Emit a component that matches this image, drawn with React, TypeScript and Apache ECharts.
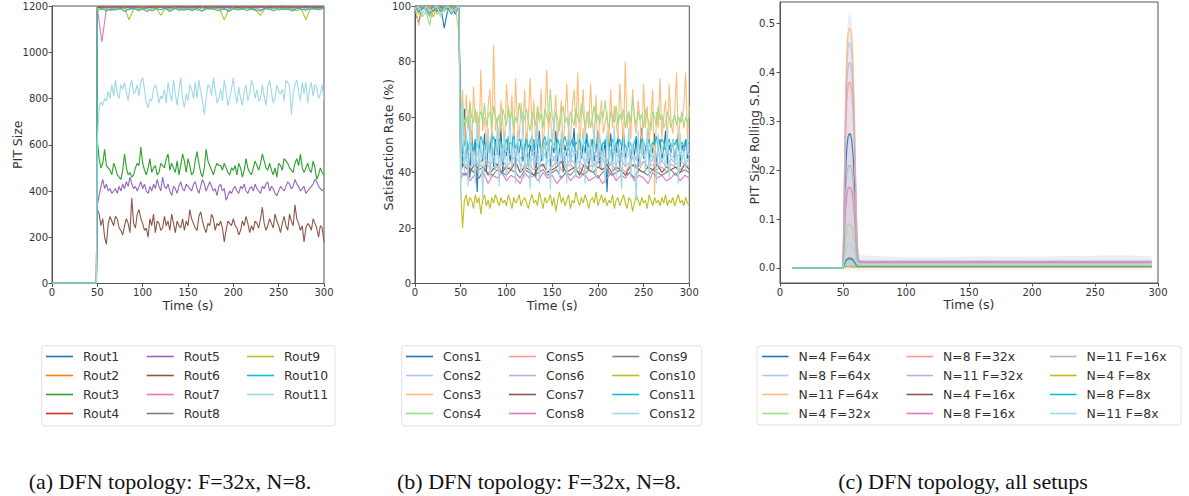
import React, { useEffect, useRef } from "react";
import * as echarts from "echarts";

// ---------------- Panel (a): PIT size per router ----------------
const ROUT_NAMES = ["Rout1", "Rout2", "Rout3", "Rout4", "Rout5", "Rout6", "Rout7", "Rout8", "Rout9", "Rout10", "Rout11"];
const ROUT_COLORS = ["#1f77b4", "#ff7f0e", "#2ca02c", "#d62728", "#9467bd", "#8c564b", "#e377c2", "#7f7f7f", "#bcbd22", "#17becf", "#9edae5"];
const PRE_TIMES_A = [0, 49];
const PRE_VALUES_A = [2, 2];

const ROUT1 = [1195,1196,1194,1197,1195,1193,1196,1198,1195,1194,1196,1197,1195,1193,1196,1195,1197,1194,1196,1195,1198,1194,1196,1195,1197,1193,1196,1195,1194,1197,1196,1195,1193,1196,1197,1195,1194,1196,1195,1198,1194,1196,1195,1197,1194,1196,1195,1193,1196,1195,1196];
const ROUT2 = [1196,1194,1197,1195,1196,1193,1197,1195,1196,1194,1198,1195,1196,1193,1195,1197,1196,1194,1195,1197,1193,1196,1195,1198,1194,1196,1195,1197,1193,1196,1194,1195,1197,1196,1193,1195,1196,1198,1194,1195,1197,1196,1193,1195,1196,1194,1197,1195,1196,1194,1195];
const ROUT3 = [620,540,500,520,580,510,500,490,470,520,500,470,460,450,490,560,500,470,480,460,470,500,520,510,590,520,490,470,500,540,480,500,510,470,480,520,510,500,540,560,490,520,500,480,530,470,510,560,530,480,540,510,470,480,530,570,520,480,460,500,580,530,510,490,470,500,520,510,510,490,520,500,480,470,500,490,510,470,520,500,460,490,540,500,480,470,500,530,510,490,520,560,530,500,490,520,490,470,500,460,520,510,490,540,530,520,500,490,480,520,540,510,560,500,480,500,520,490,480,530,500,450,470,500,480,470];
const ROUT4 = [1194,1196,1195,1193,1197,1195,1196,1194,1198,1195,1193,1196,1195,1197,1194,1196,1193,1195,1197,1196,1194,1195,1198,1193,1196,1195,1194,1197,1195,1196,1193,1195,1197,1194,1196,1195,1198,1193,1196,1194,1195,1197,1196,1193,1195,1194,1197,1196,1195,1193,1196];
const ROUT5 = [340,380,420,450,410,430,400,410,390,400,410,390,420,400,430,410,440,420,460,430,410,420,400,420,440,410,430,400,390,420,400,430,410,450,420,400,460,420,410,430,400,380,420,410,390,420,440,410,400,430,420,410,400,430,440,410,390,420,450,430,400,420,440,420,400,410,380,420,430,400,410,360,380,400,390,410,420,400,390,420,410,430,400,390,410,420,400,430,410,400,390,420,410,430,440,400,420,410,390,380,400,420,410,400,420,440,430,410,420,450,430,420,400,410,420,390,400,410,420,430,450,440,420,410,400,410];
const ROUT6 = [320,300,250,280,200,170,260,290,270,250,290,280,240,230,210,250,280,260,220,370,260,240,300,320,280,260,230,240,200,280,250,300,220,270,260,230,240,290,250,270,230,300,260,220,270,250,240,280,230,270,250,320,280,260,240,230,290,310,270,240,220,260,250,300,280,230,260,250,270,240,180,230,270,260,250,280,250,240,210,230,270,250,290,260,220,250,230,270,260,240,280,330,260,230,250,280,260,240,300,270,250,220,260,290,250,230,300,270,250,340,280,260,230,250,180,240,260,250,230,280,260,240,200,250,240,180];
const ROUT7 = [1190,1045,1188,1185,1192,1186,1190,1184,1188,1192,1186,1175,1190,1188,1185,1192,1187,1190,1184,1188,1191,1186,1190,1178,1188,1192,1186,1190,1185,1188,1192,1187,1184,1190,1188,1192,1185,1190,1187,1191,1186,1188,1184,1190,1192,1187,1188,1185,1190,1188,1191];
const ROUT8 = [1197,1195,1196,1194,1197,1196,1193,1195,1197,1196,1194,1195,1198,1196,1194,1195,1197,1193,1196,1195,1197,1194,1196,1198,1195,1193,1196,1197,1194,1195,1196,1198,1194,1195,1197,1193,1196,1195,1197,1194,1196,1195,1198,1194,1196,1195,1193,1197,1195,1196,1194];
const ROUT9 = [1190,1185,1190,1180,1188,1185,1192,1140,1188,1185,1190,1180,1188,1190,1160,1188,1185,1192,1180,1188,1185,1190,1180,1192,1188,1185,1190,1188,1140,1185,1190,1182,1188,1190,1185,1180,1160,1188,1185,1190,1182,1188,1190,1185,1180,1188,1140,1190,1185,1188,1190];
const ROUT10 = [1180,1190,1178,1188,1182,1192,1176,1188,1190,1180,1186,1192,1178,1188,1184,1190,1176,1188,1192,1182,1186,1180,1190,1178,1188,1192,1184,1180,1190,1176,1188,1186,1192,1180,1188,1184,1178,1190,1186,1180,1192,1184,1188,1178,1190,1186,1182,1192,1188,1184,1190];
const ROUT11 = [620,760,785,770,800,790,830,800,860,810,880,820,800,860,840,870,830,790,850,880,820,830,860,810,870,890,840,780,760,800,790,840,860,830,780,810,800,840,780,870,820,790,880,820,770,840,890,800,760,820,790,860,840,800,870,800,880,830,790,730,800,860,850,810,890,840,780,800,840,790,880,830,770,800,840,890,820,780,850,800,770,830,860,790,820,880,850,800,840,790,800,860,810,770,850,880,830,780,800,860,830,820,840,790,880,870,850,730,820,860,880,830,790,870,820,870,780,840,870,810,860,850,800,820,860,790];
const ROUT_DATA = [ROUT1, ROUT2, ROUT3, ROUT4, ROUT5, ROUT6, ROUT7, ROUT8, ROUT9, ROUT10, ROUT11];

// ---------------- Panel (b): satisfaction rate per consumer ----------------
const CONS_NAMES = ["Cons1", "Cons2", "Cons3", "Cons4", "Cons5", "Cons6", "Cons7", "Cons8", "Cons9", "Cons10", "Cons11", "Cons12"];
const CONS_COLORS = ["#1f77b4", "#aec7e8", "#ffbb78", "#98df8a", "#ff9896", "#c5b0d5", "#8c564b", "#e377c2", "#7f7f7f", "#bcbd22", "#17becf", "#9edae5"];

const CONS1_PRE = [98,94,100,99,96,100,98,100,92,99,100,97,100];
const CONS2_PRE = [100,99,100,98,100,99,100,100,98,100,99,100,99];
const CONS3_PRE = [100,93,99,100,96,100,98,97,100,99,98,100,90];
const CONS4_PRE = [99,100,96,98,93,100,97,99,100,98,100,99,100];
const CONS5_PRE = [100,99,100,100,98,100,99,100,100,99,100,98,100];
const CONS6_PRE = [99,100,100,98,100,99,100,99,100,100,98,100,100];
const CONS7_PRE = [100,100,99,100,100,98,100,100,99,100,100,99,100];
const CONS8_PRE = [100,98,100,100,99,100,100,98,100,99,100,100,99];
const CONS9_PRE = [99,100,100,99,100,100,98,100,100,99,100,99,100];
const CONS10_PRE = [100,97,100,99,100,96,100,99,98,100,99,100,98];
const CONS11_PRE = [100,98,99,100,97,100,99,98,100,99,97,100,99];
const CONS12_PRE = [99,100,97,100,98,99,100,96,99,100,98,99,100];
const CONS_PRE = [CONS1_PRE, CONS2_PRE, CONS3_PRE, CONS4_PRE, CONS5_PRE, CONS6_PRE, CONS7_PRE, CONS8_PRE, CONS9_PRE, CONS10_PRE, CONS11_PRE, CONS12_PRE];

const CONS1 = [55,42,63,45,50,38,55,46,52,33,50,48,44,54,40,50,47,55,42,52,48,45,56,40,50,46,53,44,49,55,41,50,47,52,44,48,54,42,50,46,52,38,49,55,44,48,51,45,53,42,50,47,55,44,48,52,40,50,46,53,44,49,56,42,48,51,45,50,47,54,41,49,52,44,48,55,42,50,46,52,33,48,54,44,50,47,53,42,49,55,45,48,51,44,50,46,53,42,49,56,45,48,52,44,50,47,54,42,49,52,45,48,55,43,50,47,52,44,49,54,42,50,47,52,45,48];
const CONS2 = [47,45,49,44,48,46,50,45,47,44,48,46,49,45,47,44,48,46,45,49,44,47,46,48,45,47,49,44,46,48,45,47,44,49,46,48,45,47,44,48,46,49,45,47,44,48,46,45,47,49,46];
const CONS3 = [60,70,50,68,55,66,48,71,58,62,50,77,55,60,48,64,70,52,86,55,60,50,66,58,48,72,62,55,68,50,74,58,52,65,56,70,48,60,74,55,66,50,62,58,70,46,60,77,55,62,50,60,68,52,58,66,48,60,72,56,50,64,70,56,76,48,60,70,52,62,56,72,58,50,68,44,60,66,54,58,62,50,70,56,64,58,52,72,60,50,80,56,62,52,70,58,54,66,60,48,72,56,64,50,60,70,32,62,56,74,52,60,66,50,72,58,54,62,76,50,60,58,64,76,52,64];
const CONS4 = [55,62,58,60,56,65,60,58,63,55,60,62,58,65,57,60,62,56,64,60,58,61,55,63,60,57,64,59,62,56,60,58,65,61,57,60,63,58,55,62,60,57,64,59,61,56,63,60,58,70,60,57,62,59,55,61,64,58,60,56,62,59,57,63,60,58,65,61,57,60,62,56,60,64,58,61,57,62,60,66,59,56,62,60,58,64,57,61,59,63,56,60,62,58,67,60,57,62,59,61,56,63,60,58,55,62,60,57,64,59,61,56,58,62,60,56,59,61,57,60,58,62,56,60,58,61];
const CONS5 = [41,43,42,40,43,42,44,41,42,43,41,42,44,40,42,43,41,42,43,40,42,44,41,42,43,41,42,40,43,42,44,41,42,43,41,42,40,43,42,41,44,42,43,41,42,40,43,42,41,43,42];
const CONS6 = [43,45,42,44,43,46,42,44,43,45,42,44,46,43,42,44,45,43,42,44,46,43,44,42,45,43,44,42,46,43,44,45,42,44,43,45,42,44,46,43,44,42,45,43,44,42,45,43,44,43,45];
const CONS7 = [44,42,40,43,41,42,39,41,43,40,42,41,44,40,42,41,39,42,43,40,41,42,44,40,41,42,39,43,41,40,42,41,43,40,42,41,39,42,43,41,40,42,41,43,40,42,41,42,40,43,41];
const CONS8 = [38,40,37,39,38,40,36,39,38,40,37,39,38,36,40,38,39,37,40,38,39,36,38,40,37,39,38,40,37,38,39,36,38,40,37,39,38,40,37,39,38,36,40,38,39,37,38,40,37,39,38];
const CONS9 = [40,39,41,40,38,41,40,39,41,40,39,41,40,38,41,40,39,40,41,39,40,41,38,40,39,41,40,39,41,40,38,40,41,39,40,41,39,40,38,41,40,39,41,40,39,40,41,39,40,41,40];
const CONS10 = [33,20,30,32,28,31,30,27,32,29,31,25,30,32,28,30,27,31,29,32,30,28,31,29,30,28,32,30,27,31,29,30,32,28,30,31,29,27,30,32,29,30,28,33,30,27,31,29,30,32,28,31,26,30,33,29,31,28,30,32,27,30,29,33,30,28,31,29,32,30,27,30,31,29,33,28,30,32,29,31,28,30,29,32,27,30,31,28,30,32,29,27,31,30,26,29,32,30,28,31,29,30,27,32,30,28,31,29,30,28,31,29,32,28,30,29,31,28,30,32,29,30,28,31,29,28];
const CONS11 = [52,48,50,53,49,51,50,47,52,50,49,53,51,48,50,52,49,51,53,50,48,52,51,49,50,52,48,51,50,53,49,50,52,51,48,50,52,49,51,53,50,49,52,50,48,51,53,50,49,52,51,50,48,52,50,49,51,53,50,48,50,52,49,51,50,52,48,50,51,53,49,50,52,51,48,50,52,49,51,50,53,49,50,52,48,51,50,52,49,51,50,48,52,50,49,51,53,50,48,52,51,49,50,52,48,51,50,53,49,50,52,51,48,50,52,49,51,50,52,48,50,51,49,52,50,51];
const CONS12 = [31,65,40,55,35,60,42,48,36,58,40,52,31,50,44,56,38,52,46,40,58,35,50,44,55,38,48,60,42,52,36,55,45,40,62,38,50,46,34,55,42,48,58,36,50,44,52,40,56,34,48,60,42,50,38,55,44,48,36,58,42,50,46,38,54,40,48,56,36,50,44,52,40,58,38,48,54,42,50,36,55,44,48,40,57,38,50,46,34,52,42,48,56,38,50,44,30,55,42,48,52,40,56,38,50,44,48,36,54,42,50,46,40,56,38,48,52,42,50,36,54,44,48,40,52,46];
const CONS_DATA = [CONS1, CONS2, CONS3, CONS4, CONS5, CONS6, CONS7, CONS8, CONS9, CONS10, CONS11, CONS12];

// ---------------- Panel (c): rolling S.D., all setups ----------------
const SETUP_NAMES = ["N=4 F=64x", "N=8 F=64x", "N=11 F=64x", "N=4 F=32x", "N=8 F=32x", "N=11 F=32x", "N=4 F=16x", "N=8 F=16x", "N=11 F=16x", "N=4 F=8x", "N=8 F=8x", "N=11 F=8x"];
const SETUP_COLORS = ["#1f77b4", "#aec7e8", "#ffbb78", "#98df8a", "#ff9896", "#c5b0d5", "#8c564b", "#e377c2", "#b5b5b5", "#bcbd22", "#17becf", "#9edae5"];
const T_C = [10, 50, 51, 52, 53, 54, 55, 56, 57, 58, 59, 60, 61, 62, 63, 65, 70, 80, 100, 130, 160, 190, 220, 250, 270, 295];
const SD1 = [0,0,0.09,0.19,0.245,0.268,0.275,0.273,0.26,0.23,0.18,0.11,0.045,0.016,0.014,0.013,0.013,0.012,0.012,0.012,0.013,0.012,0.012,0.013,0.013,0.013];
const SD2 = [0,0,0.16,0.32,0.41,0.45,0.46,0.458,0.44,0.39,0.3,0.18,0.07,0.02,0.015,0.014,0.013,0.013,0.013,0.013,0.012,0.013,0.013,0.012,0.013,0.013];
const SD3 = [0,0,0.17,0.34,0.44,0.48,0.49,0.488,0.47,0.42,0.32,0.19,0.075,0.015,0.008,0.007,0.006,0.006,0.006,0.006,0.006,0.006,0.006,0.006,0.006,0.006];
const SD4 = [0,0,0.03,0.062,0.08,0.088,0.09,0.089,0.085,0.076,0.059,0.036,0.015,0.006,0.005,0.005,0.005,0.005,0.005,0.005,0.005,0.005,0.005,0.005,0.005,0.005];
const SD5 = [0,0,0.13,0.26,0.34,0.372,0.38,0.378,0.36,0.32,0.25,0.15,0.06,0.018,0.013,0.012,0.012,0.012,0.012,0.012,0.012,0.012,0.012,0.012,0.012,0.012];
const SD6 = [0,0,0.145,0.29,0.375,0.41,0.42,0.418,0.4,0.355,0.275,0.165,0.065,0.016,0.011,0.01,0.01,0.01,0.01,0.01,0.01,0.01,0.01,0.01,0.01,0.01];
const SD7 = [0,0,0.007,0.014,0.018,0.0195,0.02,0.02,0.019,0.017,0.013,0.008,0.004,0.003,0.003,0.003,0.003,0.003,0.003,0.003,0.003,0.003,0.003,0.003,0.003,0.003];
const SD8 = [0,0,0.057,0.115,0.148,0.162,0.165,0.164,0.157,0.14,0.108,0.066,0.027,0.014,0.012,0.012,0.012,0.012,0.012,0.012,0.012,0.012,0.012,0.012,0.012,0.012];
const SD9 = [0,0,0.073,0.146,0.188,0.206,0.21,0.209,0.2,0.178,0.138,0.084,0.035,0.017,0.015,0.014,0.014,0.014,0.014,0.014,0.014,0.014,0.014,0.014,0.014,0.014];
const SD10 = [0,0,0.0015,0.003,0.0036,0.004,0.004,0.004,0.0038,0.0034,0.0028,0.0022,0.002,0.002,0.002,0.002,0.002,0.002,0.002,0.002,0.002,0.002,0.002,0.002,0.002,0.002];
const SD11 = [0,0,0.006,0.012,0.016,0.0175,0.018,0.018,0.017,0.015,0.012,0.008,0.005,0.004,0.004,0.004,0.004,0.004,0.004,0.004,0.004,0.004,0.004,0.004,0.004,0.004];
const SD12 = [0,0,0.017,0.034,0.045,0.049,0.05,0.05,0.048,0.042,0.033,0.02,0.009,0.007,0.006,0.006,0.006,0.006,0.006,0.006,0.006,0.006,0.006,0.006,0.006,0.006];
const SD_DATA = [SD1, SD2, SD3, SD4, SD5, SD6, SD7, SD8, SD9, SD10, SD11, SD12];
const BAND_UPPER = [0,0,0.2,0.38,0.47,0.51,0.52,0.52,0.5,0.45,0.36,0.23,0.1,0.035,0.028,0.026,0.025,0.024,0.022,0.022,0.024,0.023,0.024,0.025,0.026,0.024];
const BAND_LOWER = [0,0,-0.002,-0.003,-0.004,-0.005,-0.005,-0.005,-0.005,-0.005,-0.005,-0.005,-0.005,-0.005,-0.005,-0.005,-0.005,-0.004,-0.004,-0.003,-0.003,-0.003,-0.003,-0.003,-0.003,-0.003];

const X_TICKS_MAX = 300;
const SD_TICKS = [0, 0.1, 0.2, 0.3, 0.4, 0.5];

const CAPTIONS = ["(a) DFN topology: F=32x, N=8.", "(b) DFN topology: F=32x, N=8.", "(c) DFN topology, all setups"];

// spread values evenly over a time span
function spread(vals: number[], t0: number, t1: number): number[][] {
  const n = vals.length;
  return vals.map((v, i) => [t0 + (i * (t1 - t0)) / (n - 1), v]);
}

const FONT = "DejaVu Sans";
const AX = "#555";
const TXT = "#333";

function axisCommon(gridIndex: number) {
  return {
    gridIndex,
    nameMoveOverlap: false,
    axisLine: { show: true, onZero: false, lineStyle: { color: AX, width: 1 } },
    axisTick: { show: true, length: 3.5, lineStyle: { color: AX } },
    splitLine: { show: false },
    axisLabel: { fontSize: 10, fontFamily: FONT, color: TXT, margin: 4, formatter: (v: number) => String(v) },
    nameTextStyle: { fontSize: 12.5, fontFamily: FONT, color: TXT },
  };
}

function legendCol(left: number, names: string[], itemWidth: number) {
  return {
    orient: "vertical",
    left,
    top: 349.5,
    padding: 0,
    data: names,
    icon: "rect",
    itemWidth,
    itemHeight: 1.6,
    itemGap: 5,
    selectedMode: false,
    textStyle: { fontSize: 12.4, fontFamily: FONT, color: TXT, lineHeight: 14, padding: [0, 0, 0, 5] },
  };
}

export default function App() {
  const ref = useRef<HTMLDivElement>(null);
  useEffect(() => {
    document.body.style.margin = "0";
    if (!ref.current) return;
    const chart = echarts.init(ref.current, undefined, { renderer: "svg" });

    const series: any[] = [];
    ROUT_NAMES.forEach((name, i) => {
      const pre = PRE_TIMES_A.map((t, k) => [t, PRE_VALUES_A[k]]);
      series.push({
        name, type: "line", xAxisIndex: 0, yAxisIndex: 0, showSymbol: false, symbol: "none", silent: true,
        data: [...pre, ...spread(ROUT_DATA[i], 50, 300)],
        lineStyle: { color: ROUT_COLORS[i], width: 1.1 }, itemStyle: { color: ROUT_COLORS[i] },
      });
    });
    CONS_NAMES.forEach((name, i) => {
      series.push({
        name, type: "line", xAxisIndex: 1, yAxisIndex: 1, showSymbol: false, symbol: "none", silent: true,
        data: [...spread(CONS_PRE[i], 0, 48), ...spread(CONS_DATA[i], 50, 300)],
        lineStyle: { color: CONS_COLORS[i], width: 1.1 }, itemStyle: { color: CONS_COLORS[i] },
      });
    });
    // confidence envelope in (c): upper part (0..upper) and lower part (lower..0)
    series.push({
      name: "band-upper", type: "line", xAxisIndex: 2, yAxisIndex: 2, symbol: "none", silent: true,
      data: T_C.map((t, k) => [t, BAND_UPPER[k]]),
      lineStyle: { opacity: 0 },
      areaStyle: { color: "#b9b6d6", opacity: 0.25 },
    });
    series.push({
      name: "band-lower", type: "line", xAxisIndex: 2, yAxisIndex: 2, symbol: "none", silent: true,
      data: T_C.map((t, k) => [t, BAND_LOWER[k]]),
      lineStyle: { opacity: 0 },
      areaStyle: { color: "#e8d8b0", opacity: 0.3 },
    });
    SETUP_NAMES.forEach((name, i) => {
      series.push({
        name, type: "line", xAxisIndex: 2, yAxisIndex: 2, showSymbol: false, symbol: "none", silent: true,
        data: T_C.map((t, k) => [t, SD_DATA[i][k]]),
        lineStyle: { color: SETUP_COLORS[i], width: 1.2, opacity: 0.9 }, itemStyle: { color: SETUP_COLORS[i] },
        areaStyle: { color: SETUP_COLORS[i], opacity: 0.05 },
      });
    });

    const gridStyle = { show: true, borderColor: AX, borderWidth: 1, backgroundColor: "#fff" };

    const option: any = {
      animation: false,
      backgroundColor: "#fff",
      grid: [
        { left: 52, top: 6, width: 272, height: 277.5, ...gridStyle },
        { left: 415, top: 6, width: 274.3, height: 277.5, ...gridStyle },
        { left: 780, top: 2, width: 378, height: 281, ...gridStyle },
      ],
      xAxis: [0, 1, 2].map((g) => ({
        ...axisCommon(g), type: "value", min: 0, max: X_TICKS_MAX, interval: 50,
        name: "Time (s)", nameLocation: "middle", nameGap: 15,
        nameTextStyle: { fontSize: 12.5, fontFamily: FONT, color: TXT },
      })),
      yAxis: [
        { ...axisCommon(0), type: "value", min: 0, max: 1200, interval: 200, name: "PIT Size", nameLocation: "middle", nameGap: 28 },
        { ...axisCommon(1), type: "value", min: 0, max: 100, interval: 20, name: "Satisfaction Rate (%)", nameLocation: "middle", nameGap: 20 },
        {
          ...axisCommon(2), type: "value", min: -0.0307, max: 0.5436, name: "PIT Size Rolling S.D.", nameLocation: "middle", nameGap: 19,
          axisLabel: { fontSize: 10, fontFamily: FONT, color: TXT, margin: 5, customValues: SD_TICKS, formatter: (v: number) => v.toFixed(1) },
          axisTick: { show: true, length: 3.5, lineStyle: { color: AX }, customValues: SD_TICKS },
        },
      ],
      legend: [
        legendCol(46, ROUT_NAMES.slice(0, 4), 27),
        legendCol(146.7, ROUT_NAMES.slice(4, 8), 27),
        legendCol(247, ROUT_NAMES.slice(8, 11), 27),
        legendCol(406, CONS_NAMES.slice(0, 4), 27),
        legendCol(509, CONS_NAMES.slice(4, 8), 27),
        legendCol(612.3, CONS_NAMES.slice(8, 12), 27),
        legendCol(762, SETUP_NAMES.slice(0, 4), 26.5),
        legendCol(906.5, SETUP_NAMES.slice(4, 8), 26.5),
        legendCol(1050, SETUP_NAMES.slice(8, 12), 26.5),
      ],
      graphic: [
        { type: "rect", z: -1, shape: { x: 41.7, y: 345.7, width: 293.3, height: 80.3, r: 3 }, style: { fill: "#fff", stroke: "#e2e2e2", lineWidth: 1 } },
        { type: "rect", z: -1, shape: { x: 401.7, y: 345.7, width: 300, height: 80.3, r: 3 }, style: { fill: "#fff", stroke: "#e2e2e2", lineWidth: 1 } },
        { type: "rect", z: -1, shape: { x: 757, y: 346, width: 424, height: 79, r: 3 }, style: { fill: "#fff", stroke: "#e2e2e2", lineWidth: 1 } },
        { type: "text", x: 170, y: 481, style: { text: CAPTIONS[0], fontSize: 22, fontFamily: "Liberation Serif", fill: "#111", align: "center", verticalAlign: "middle" } },
        { type: "text", x: 539, y: 481, style: { text: CAPTIONS[1], fontSize: 22, fontFamily: "Liberation Serif", fill: "#111", align: "center", verticalAlign: "middle" } },
        { type: "text", x: 963, y: 481, style: { text: CAPTIONS[2], fontSize: 22, fontFamily: "Liberation Serif", fill: "#111", align: "center", verticalAlign: "middle" } },
      ],
      series,
    };
    chart.setOption(option);
    return () => chart.dispose();
  }, []);
  return <div ref={ref} style={{ width: 1189, height: 496 }} />;
}
